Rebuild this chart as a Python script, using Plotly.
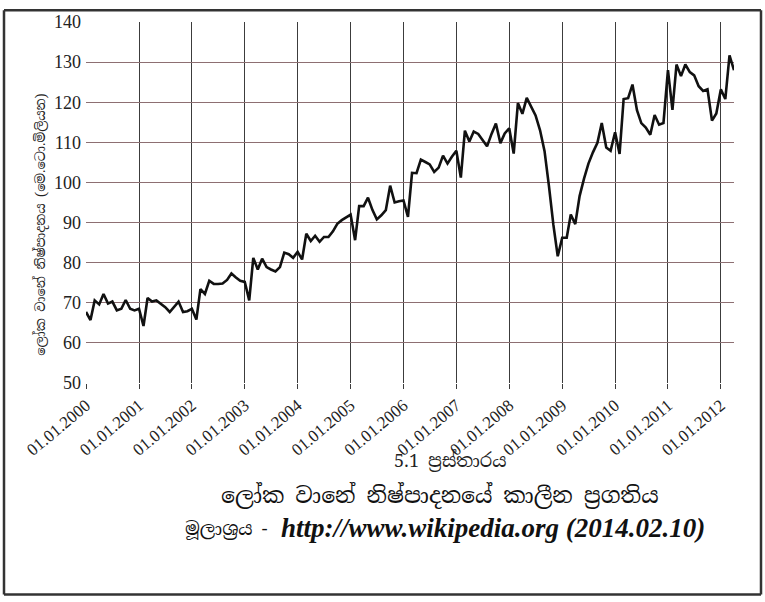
import plotly.graph_objects as go
import pandas as pd

# Monthly world steel production (million tonnes), Jan 2000 - Apr 2012
v2000 = [67.7, 65.7, 70.6, 69.6, 72.2, 69.8, 70.3, 68.1, 68.5, 70.7, 68.5, 68.1]
v2001 = [68.5, 64.2, 71.2, 70.3, 70.6, 69.8, 68.9, 67.7, 68.9, 70.3, 67.7, 67.9]
v2002 = [68.5, 65.8, 73.4, 72.2, 75.5, 74.7, 74.7, 74.8, 75.7, 77.3, 76.3, 75.5]
v2003 = [75.2, 70.6, 81.2, 78.3, 81.0, 78.9, 78.3, 77.8, 78.9, 82.5, 82.1, 81.2]
v2004 = [82.7, 80.8, 87.2, 85.4, 86.7, 85.2, 86.4, 86.4, 87.8, 89.7, 90.6, 91.4]
v2005 = [92.0, 85.6, 94.1, 94.1, 96.2, 93.1, 90.8, 91.8, 93.1, 99.2, 95.0, 95.3]
v2006 = [95.5, 91.4, 102.4, 102.3, 105.7, 105.1, 104.5, 102.6, 103.7, 106.7, 104.7, 106.4]
v2007 = [107.9, 101.2, 112.9, 110.2, 112.7, 112.1, 110.6, 109.0, 112.1, 114.7, 109.8, 112.2]
v2008 = [113.5, 107.2, 119.8, 117.1, 121.1, 118.9, 116.7, 113.0, 107.8, 99.2, 89.4, 81.6]
v2009 = [86.2, 86.2, 92.0, 89.6, 96.6, 101.0, 104.7, 107.5, 109.9, 114.8, 108.7, 107.9]
v2010 = [112.5, 107.1, 120.8, 121.0, 124.4, 118.0, 114.8, 113.7, 111.9, 116.8, 114.4, 114.8]
v2011 = [128.0, 118.1, 129.4, 126.5, 129.4, 127.5, 126.7, 124.0, 122.8, 123.2, 115.4, 117.2]
v2012 = [123.2, 120.8, 131.7, 128.0]

values = (v2000 + v2001 + v2002 + v2003 + v2004 + v2005 + v2006 + v2007
          + v2008 + v2009 + v2010 + v2011 + v2012)
months = pd.date_range("2000-01-01", periods=len(values), freq="MS")

tick_dates = ["2000-01-01", "2001-01-01", "2002-01-01", "2003-01-01", "2004-01-01",
              "2005-01-01", "2006-01-01", "2007-01-01", "2008-01-01", "2009-01-01",
              "2010-01-01", "2011-01-01", "2012-01-01"]
tick_text = ["01.01.2000", "01.01.2001", "01.01.2002", "01.01.2003", "01.01.2004",
             "01.01.2005", "01.01.2006", "01.01.2007", "01.01.2008", "01.01.2009",
             "01.01.2010", "01.01.2011", "01.01.2012"]
y_ticks = [50, 60, 70, 80, 90, 100, 110, 120, 130, 140]

y_title = "ලෝක වානේ නිෂ්පාදනය (මෙ.ටො.මිලියන)"
fig_label = "5.1 ප්‍රස්තාරය"
caption = "ලෝක වානේ නිෂ්පාදනයේ කාලීන ප්‍රගතිය"
source_label = "මූලාශ්‍රය -"
source_url = "http://www.wikipedia.org (2014.02.10)"

W, H = 765, 602
L, R, T, B = 86, 31, 16, 219
pw, ph = W - L - R, H - T - B

def px(x):
    return (x - L) / pw

def py(y):
    return (H - B - y) / ph

sinhala = "Noto Serif Sinhala, Noto Sans Sinhala, Iskoola Pota, serif"
serif = "Liberation Serif, Times New Roman, serif"

fig = go.Figure()
fig.add_trace(go.Scatter(
    x=months, y=values, mode="lines",
    line=dict(color="#111111", width=2.6),
    hoverinfo="skip", showlegend=False,
))

border = dict(color="#333333", width=2.5)
bx0, bx1, by0, by1 = px(4), px(761), py(598), py(4)

fig.update_layout(
    width=W, height=H,
    margin=dict(l=L, r=R, t=T, b=B),
    paper_bgcolor="white", plot_bgcolor="white",
    font=dict(family=serif, color="#222"),
    xaxis=dict(
        type="date",
        range=["2000-01-01", "2012-04-01"],
        tickvals=tick_dates, ticktext=tick_text, tickangle=-40,
        showgrid=True, gridcolor="#3c3c3c", gridwidth=1,
        ticks="outside", ticklen=5, tickcolor="#3c3c3c",
        zeroline=False, showline=False,
        tickfont=dict(family=serif, size=17, color="#222"),
    ),
    yaxis=dict(
        range=[50, 140], tickvals=y_ticks,
        showgrid=True, gridcolor="#8d6f72", gridwidth=1.2,
        zeroline=False, showline=False, ticks="",
        ticklabelstandoff=4,
        tickfont=dict(family=serif, size=18, color="#222"),
    ),
    shapes=[
        dict(type="line", xref="paper", yref="paper", x0=bx0, x1=bx1, y0=by1, y1=by1, line=border),
        dict(type="line", xref="paper", yref="paper", x0=bx0, x1=bx1, y0=by0, y1=by0, line=border),
        dict(type="line", xref="paper", yref="paper", x0=bx0, x1=bx0, y0=by0, y1=by1, line=border),
        dict(type="line", xref="paper", yref="paper", x0=bx1, x1=bx1, y0=by0, y1=by1, line=border),
    ],
    annotations=[
        dict(text=y_title, xref="paper", yref="paper", x=px(41), y=py(222),
             xanchor="center", yanchor="middle",
             textangle=-90, showarrow=False,
             font=dict(family=sinhala, size=13, color="#222")),
        dict(text=fig_label, xref="paper", yref="paper", x=px(450), y=py(462),
             xanchor="center", yanchor="middle",
             showarrow=False, font=dict(family=sinhala, size=18, color="#222")),
        dict(text=caption, xref="paper", yref="paper", x=px(440), y=py(497),
             xanchor="center", yanchor="middle",
             showarrow=False, font=dict(family=sinhala, size=22, color="#111")),
        dict(text=source_label, xref="paper", yref="paper", x=px(270), y=py(531),
             xanchor="right", yanchor="middle",
             showarrow=False, font=dict(family=sinhala, size=18, color="#111")),
        dict(text="<b><i>" + source_url + "</i></b>",
             xref="paper", yref="paper", x=px(279), y=py(530),
             xanchor="left", yanchor="middle",
             showarrow=False, font=dict(family=serif, size=27, color="#111")),
    ],
)

fig.write_html("out.html", config={"displayModeBar": False},
               post_script="document.body.style.margin='0';")
